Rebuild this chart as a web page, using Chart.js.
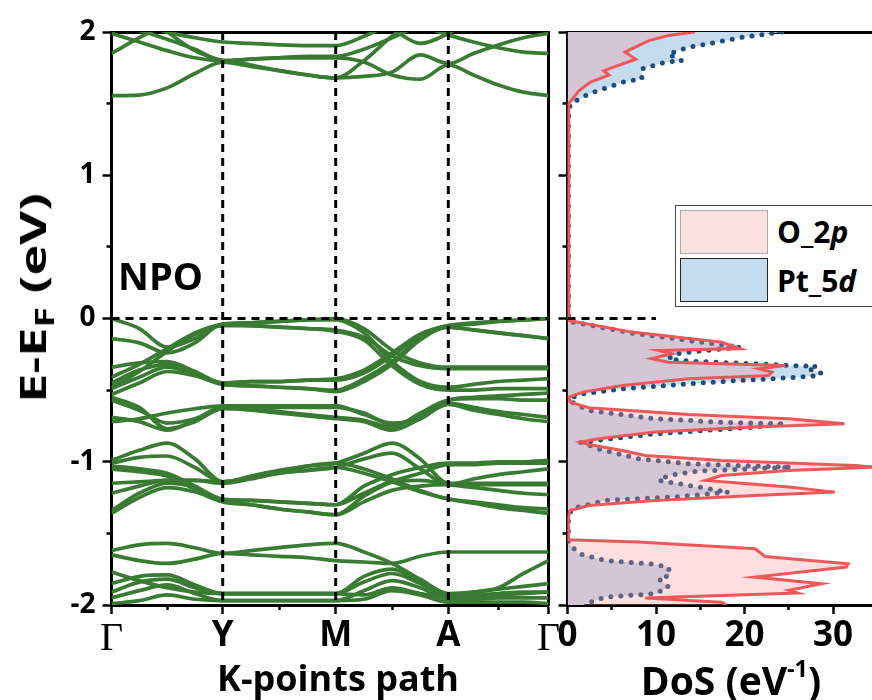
<!DOCTYPE html>
<html><head><meta charset="utf-8">
<script src="https://cdn.jsdelivr.net/npm/chart.js@4"></script>
<style>
html,body{margin:0;padding:0;background:#fff;}
#wrap{position:relative;width:872px;height:700px;overflow:hidden;font-family:'Open Sans',sans-serif;font-weight:700;color:#000;}
canvas{position:absolute;left:0;top:0;}
.t{position:absolute;white-space:nowrap;line-height:1;}
#ytitle{left:33px;top:298px;font-size:36px;transform:translate(-50%,-50%) rotate(-90deg) scaleX(1.45);}
#ytitle sub{font-size:0.72em;vertical-align:-0.3em;line-height:0;}
#npo{left:118px;top:256px;font-size:38px;}
#xtitle{left:338px;top:660px;font-size:36px;transform:translateX(-50%);}
#dtitle{left:731px;top:660px;font-size:39px;transform:translateX(-50%);}
#dtitle sup{font-size:0.6em;vertical-align:0.75em;line-height:0;}
#legend{position:absolute;left:675px;top:205px;width:210px;height:100px;border:1.5px solid #444;background:#fff;}
.sw{position:absolute;left:4px;width:86px;height:42px;}
#sw1{top:4px;background:#fde1e1;border:1px solid #aaa;}
#sw2{top:52px;background:#c5dcef;border:1.5px solid #222;}
.lt{position:absolute;left:101px;font-size:30px;line-height:1;}
.lt i{font-style:italic;}
</style></head><body>
<div id="wrap">
<canvas id="bands" width="872" height="700"></canvas>
<canvas id="dos" width="872" height="700"></canvas>
<div class="t" id="ytitle">E-E<sub>F</sub> (eV)</div>
<div class="t" id="npo">NPO</div>
<div class="t" id="xtitle">K-points path</div>
<div class="t" id="dtitle">DoS (eV<sup>-1</sup>)</div>
<div id="legend">
  <div class="sw" id="sw1"></div><div class="lt" style="top:11px">O_2<i>p</i></div>
  <div class="sw" id="sw2"></div><div class="lt" style="top:60px">Pt_5<i>d</i></div>
</div>
</div>
<script>
// ---------- k-path ----------
const kPath = [0, 27.8, 55.6, 83.4, 111.2, 139.4, 167.7, 196.0, 224.2, 252.4, 280.5, 308.7, 336.8, 361.9, 386.9, 412.0, 437.0];
const kTickPos = [0, 111.2, 224.2, 336.8, 437.0];
const kTickLabels = ['Γ', 'Y', 'M', 'A', 'Γ'];
const energyTicks = [-2, -1, 0, 1, 2];
const energyMinorTicks = [-1.5, -0.5, 0.5, 1.5];
const dosTicks = [0, 10, 20, 30];
const dosMinorTicks = [5, 15, 25];

// ---------- bands (eV at kPath points) ----------
const bandsCB = [
  [1.556,1.56,1.61,1.71,1.79, 1.76,1.73,1.70,1.68, 1.80,1.97,2.10,2.15, 2.15,2.15,2.15,2.15],
  [1.99,1.93,1.87,1.82,1.80, 1.81,1.82,1.82,1.82, 1.79,1.70,1.67,1.77, 1.70,1.63,1.58,1.556],
  [1.85,1.96,2.06,2.12,2.15, 2.15,2.15,2.15,2.15, 2.15,2.15,2.05,1.98, 1.93,1.89,1.86,1.85],
  [2.06,2.01,1.95,1.88,1.80, 1.81,1.82,1.83,1.83, 1.88,1.96,2.05,2.12, 2.15,2.15,2.15,2.15],
  [2.12,2.06,2.00,1.96,1.93, 1.92,1.91,1.905,1.905, 1.97,2.06,2.12,2.15, 2.15,2.15,2.15,2.15],
  [2.15,2.12,2.00,1.87,1.80, 1.77,1.73,1.70,1.68, 1.69,1.72,1.84,1.78, 1.85,1.91,1.96,1.99],
  [2.15,2.15,2.15,2.15,2.15, 2.15,2.15,2.15,2.15, 2.10,2.02,1.92,1.99, 2.10,2.15,2.15,2.15]
];
const bandsVB1 = [
  [0.00,-0.07,-0.20,-0.14,-0.04, -0.03,-0.02,-0.01,0.00, -0.07,-0.22,-0.31,-0.34, -0.34,-0.34,-0.34,-0.34],
  [-0.14,-0.17,-0.24,-0.17,-0.04, -0.05,-0.06,-0.07,-0.08, -0.13,-0.26,-0.33,-0.35, -0.35,-0.35,-0.35,-0.35],
  [-0.41,-0.32,-0.21,-0.10,-0.04, -0.03,-0.02,-0.01,-0.01, -0.10,-0.30,-0.44,-0.48, -0.46,-0.44,-0.43,-0.42],
  [-0.48,-0.37,-0.23,-0.11,-0.05, -0.05,-0.06,-0.07,-0.09, -0.15,-0.33,-0.46,-0.50, -0.50,-0.49,-0.49,-0.49],
  [-0.34,-0.31,-0.30,-0.37,-0.45, -0.44,-0.44,-0.43,-0.43, -0.38,-0.26,-0.12,-0.05, -0.03,-0.02,-0.01,0.00],
  [-0.45,-0.36,-0.32,-0.38,-0.46, -0.47,-0.48,-0.49,-0.50, -0.42,-0.30,-0.14,-0.06, -0.08,-0.10,-0.12,-0.14],
  [-0.49,-0.41,-0.34,-0.39,-0.45, -0.44,-0.44,-0.43,-0.42, -0.36,-0.24,-0.11,-0.05, -0.04,-0.02,-0.01,0.00],
  [-0.53,-0.45,-0.37,-0.40,-0.46, -0.47,-0.48,-0.49,-0.51, -0.44,-0.32,-0.15,-0.06, -0.08,-0.10,-0.12,-0.14],
  [-0.57,-0.64,-0.73,-0.70,-0.62, -0.62,-0.62,-0.62,-0.62, -0.66,-0.74,-0.68,-0.57, -0.55,-0.54,-0.53,-0.52],
  [-0.69,-0.72,-0.78,-0.71,-0.62, -0.63,-0.65,-0.67,-0.69, -0.71,-0.76,-0.66,-0.57, -0.56,-0.56,-0.57,-0.57],
  [-0.72,-0.70,-0.66,-0.63,-0.61, -0.61,-0.61,-0.61,-0.61, -0.67,-0.73,-0.70,-0.59, -0.62,-0.65,-0.67,-0.69],
  [-0.55,-0.62,-0.77,-0.72,-0.63, -0.64,-0.66,-0.68,-0.70, -0.72,-0.78,-0.70,-0.60, -0.64,-0.67,-0.70,-0.72]
];
const bandsVB2 = [
  [-0.99,-0.92,-0.87,-0.98,-1.14, -1.10,-1.06,-1.03,-1.01, -0.94,-0.87,-0.98,-1.15, -1.15,-1.15,-1.15,-1.15],
  [-1.01,-0.97,-0.96,-1.04,-1.14, -1.11,-1.08,-1.06,-1.04, -0.98,-0.94,-1.05,-1.16, -1.12,-1.09,-1.07,-1.05],
  [-1.03,-1.05,-1.08,-1.17,-1.26, -1.27,-1.28,-1.29,-1.30, -1.17,-1.09,-1.04,-1.01, -1.01,-1.00,-1.00,-0.99],
  [-1.05,-1.07,-1.10,-1.19,-1.27, -1.30,-1.33,-1.35,-1.37, -1.24,-1.14,-1.08,-1.02, -1.02,-1.01,-1.01,-1.01],
  [-1.15,-1.14,-1.13,-1.13,-1.14, -1.11,-1.07,-1.03,-1.01, -1.05,-1.12,-1.20,-1.26, -1.28,-1.30,-1.32,-1.33],
  [-1.22,-1.17,-1.13,-1.13,-1.15, -1.12,-1.08,-1.06,-1.04, -1.08,-1.14,-1.21,-1.26, -1.29,-1.32,-1.34,-1.36],
  [-1.34,-1.22,-1.15,-1.18,-1.27, -1.27,-1.28,-1.29,-1.30, -1.22,-1.14,-1.13,-1.16, -1.18,-1.20,-1.22,-1.23],
  [-1.36,-1.25,-1.18,-1.21,-1.28, -1.30,-1.33,-1.35,-1.37, -1.28,-1.20,-1.17,-1.16, -1.16,-1.16,-1.16,-1.16]
];
const bandsVB3 = [
  [-1.62,-1.58,-1.57,-1.60,-1.64, -1.62,-1.60,-1.58,-1.57, -1.63,-1.71,-1.82,-1.92, -1.91,-1.88,-1.78,-1.69],
  [-1.65,-1.69,-1.71,-1.68,-1.64, -1.65,-1.66,-1.67,-1.69, -1.70,-1.71,-1.66,-1.63, -1.63,-1.63,-1.63,-1.63],
  [-1.85,-1.80,-1.79,-1.86,-1.92, -1.92,-1.92,-1.92,-1.92, -1.80,-1.75,-1.84,-1.93, -1.91,-1.89,-1.87,-1.85],
  [-1.91,-1.84,-1.82,-1.88,-1.92, -1.92,-1.92,-1.92,-1.92, -1.84,-1.78,-1.85,-1.94, -1.93,-1.92,-1.91,-1.91],
  [-1.95,-1.90,-1.86,-1.92,-1.97, -1.97,-1.97,-1.97,-1.97, -1.90,-1.83,-1.88,-1.96, -1.96,-1.95,-1.95,-1.95],
  [-1.99,-1.97,-1.93,-1.96,-1.97, -1.97,-1.97,-1.97,-1.97, -1.96,-1.90,-1.93,-1.98, -1.98,-1.98,-1.98,-1.99],
  [-1.77,-1.83,-1.88,-1.91,-1.92, -1.92,-1.92,-1.92,-1.92, -1.93,-1.88,-1.92,-1.95, -1.94,-1.93,-1.92,-1.91]
];

// ---------- DoS ----------
const dosEnergyO = [2.00,1.975,1.94,1.86,1.81,1.73,1.70,1.65,1.59,1.50,1.45,0.05,
  -0.014,-0.095,-0.165,-0.21,-0.223,-0.246,-0.28,-0.305,-0.316,-0.328,-0.351,-0.375,-0.398,-0.421,-0.468,-0.514,-0.549,-0.584,
  -0.623,-0.670,-0.700,-0.735,-0.758,-0.793,-0.840,-0.863,-0.879,-0.921,-0.956,-0.991,-1.026,-1.038,-1.061,-1.096,-1.130,-1.149,
  -1.177,-1.212,-1.235,-1.270,-1.305,-1.340,-1.386,-1.545,-1.561,-1.607,-1.661,-1.712,-1.735,-1.805,-1.851,-1.898,-1.917,-1.952,-1.980,-2.00];
const dosO = [14.4,11.4,9.2,6.5,7.7,4.1,4.7,2.6,1.3,0.15,0.15,0.15,
  0.15,7.3,17.4,19.5,10.3,11.8,9.5,11.4,17.4,24.6,21.6,23.1,22.7,13.7,6.2,1.7,0.15,0.3,
  2.4,13.7,25.0,31.3,21.2,9.9,3.5,1.5,2.4,6.2,8.8,17.4,32.5,34.7,25.0,17.4,15.6,19.3,
  25.0,30.2,21.2,9.9,2.4,0.3,0.1,0.1,8.0,21.2,22.3,31.7,31.5,21.2,28.7,25.0,26.0,8.8,17.4,18.0];
const dosEnergyPt = [2.00,1.963,1.917,1.893,1.847,1.800,1.789,1.742,1.673,1.649,1.568,1.498,1.40,0.05,
  -0.02,-0.102,-0.200,-0.246,-0.281,-0.298,-0.316,-0.328,-0.333,-0.351,-0.382,-0.400,-0.414,-0.433,-0.456,-0.491,-0.526,-0.556,
  -0.584,-0.642,-0.700,-0.724,-0.735,-0.758,-0.805,-0.849,-0.865,-0.910,-0.979,-1.014,-1.038,-1.065,-1.096,-1.130,-1.165,-1.212,
  -1.247,-1.270,-1.326,-1.386,-1.568,-1.642,-1.689,-1.712,-1.735,-1.793,-1.817,-1.875,-1.921,-1.945,-1.991,-2.00];
const dosPt = [24.2,19.7,15.9,13.7,11.4,12.9,11.0,8.4,8.4,6.2,2.4,0.3,0.1,0.1,
  0.15,7.3,19.5,12.2,11.4,13.7,21.2,25.0,28.0,27.2,28.7,28.0,25.0,19.3,13.7,6.2,1.7,0.3,
  0.5,2.4,9.9,17.4,24.6,21.2,9.9,3.5,1.5,3.5,8.0,13.7,25.3,14.8,11.4,10.3,13.7,18.2,
  11.8,4.3,0.5,0.1,0.1,1.3,4.3,9.2,11.4,11.6,10.3,11.4,9.9,4.3,2.0,1.8];
const fermiDashDoS = [0, 10];

// ---------- styles ----------
const GREEN = '#3a7b34';
const SANS = 'Open Sans';
const kMinor = kTickPos.slice(1).map((v, i) => (v + kTickPos[i]) / 2);

const dashStyle = {borderColor: '#000', borderWidth: 3, borderDash: [8, 6], pointRadius: 0, showLine: true, tension: 0, fill: false};
const bandDatasets = [].concat(bandsCB, bandsVB1, bandsVB2, bandsVB3).map(b => ({
  data: kPath.map((k, i) => ({x: k, y: b[i]})),
  borderColor: GREEN, borderWidth: 3.7, pointRadius: 0, showLine: true,
  cubicInterpolationMode: 'monotone', fill: false
}));
const dashDatasets = kTickPos.slice(1, 4).map(k => Object.assign({
  data: [{x: k, y: 2}, {x: k, y: -2}]
}, dashStyle));
dashDatasets.push(Object.assign({data: [{x: kTickPos[0], y: 0}, {x: kTickPos[4], y: 0}]}, dashStyle));

const LEFT_AREA = 111.5, RIGHT_AREA = 548.5, TOP_AREA = 32, BOTTOM_H = 95, DOS_LEFT = 567.5;

// helpers for axes (major labelled ticks + shorter minor ticks on a second, zero-size axis)
const tickGrid = len => ({display: true, drawOnChartArea: false, drawTicks: true, tickLength: len, tickWidth: 2.5, tickColor: '#000'});
const borderAxis = (pos, min, max) => ({
  type: 'linear', position: pos, min, max,
  afterFit: s => { if (s.isHorizontal()) s.height = 0; else s.width = 0; },
  ticks: {display: false}, grid: {display: false},
  border: {display: true, color: '#000', width: 3}
});
const minorAxis = (pos, min, max, vals) => ({
  type: 'linear', position: pos, min, max, weight: 0, display: true,
  afterBuildTicks: s => { s.ticks = vals.map(v => ({value: v})); },
  afterFit: s => { if (s.isHorizontal()) s.height = 0; else s.width = 0; },
  grid: tickGrid(5), border: {display: false},
  ticks: {autoSkip: false, callback: () => '', padding: 0, font: {size: 1}}
});

new Chart(document.getElementById('bands'), {
  type: 'scatter',
  data: {datasets: dashDatasets.concat(bandDatasets)},
  options: {
    responsive: false, animation: false, devicePixelRatio: 1,
    layout: {padding: {left: 0, right: 872 - RIGHT_AREA, top: TOP_AREA, bottom: 0}},
    plugins: {legend: {display: false}, tooltip: {enabled: false}},
    scales: {
      x: {
        type: 'linear', min: kTickPos[0], max: kTickPos[4], position: 'bottom', weight: 10,
        afterBuildTicks: s => { s.ticks = kTickPos.map(v => ({value: v})); },
        afterFit: s => { s.height = BOTTOM_H; },
        grid: tickGrid(9),
        border: {display: true, color: '#000', width: 3},
        ticks: {
          autoSkip: false, maxRotation: 0, minRotation: 0, padding: 1, color: '#000',
          callback: v => { const i = kTickPos.indexOf(v); return i >= 0 ? kTickLabels[i] : ''; },
          font: ctx => {
            const v = ctx.tick ? ctx.tick.value : null;
            const i = kTickPos.indexOf(v);
            if (i >= 0 && kTickLabels[i] === 'Γ') return {family: 'Liberation Serif', size: 40, weight: 'normal'};
            return {family: SANS, size: 35, weight: 'bold'};
          }
        }
      },
      xMinor: minorAxis('bottom', kTickPos[0], kTickPos[4], kMinor),
      xTop: borderAxis('top', kTickPos[0], kTickPos[4]),
      y: {
        type: 'linear', min: -2, max: 2, position: 'left', weight: 10,
        afterBuildTicks: s => { s.ticks = energyTicks.map(v => ({value: v})); },
        afterFit: s => { s.width = LEFT_AREA; },
        grid: tickGrid(9),
        border: {display: true, color: '#000', width: 3},
        ticks: {padding: 7, color: '#000', font: {family: SANS, size: 28, weight: 'bold'},
          callback: v => String(v)}
      },
      yMinor: minorAxis('left', -2, 2, energyMinorTicks),
      yRight: borderAxis('right', -2, 2)
    }
  }
});

new Chart(document.getElementById('dos'), {
  type: 'line',
  data: {datasets: [
    Object.assign({data: fermiDashDoS.map(d => ({x: d, y: 0}))}, dashStyle),
    {
      data: dosEnergyO.map((e, i) => ({x: dosO[i], y: e})),
      borderColor: '#f0575a', borderWidth: 3, pointRadius: 0, tension: 0,
      fill: 'origin', backgroundColor: 'rgba(248,150,152,0.3)'
    },
    {
      data: dosEnergyPt.map((e, i) => ({x: dosPt[i], y: e})),
      borderColor: '#1f4e79', borderWidth: 5, borderDash: [0, 10], borderCapStyle: 'round',
      pointRadius: 0, tension: 0, fill: 'origin', backgroundColor: '#c5dcef'
    }
  ]},
  options: {
    indexAxis: 'y',
    responsive: false, animation: false, devicePixelRatio: 1,
    layout: {padding: {left: 0, right: 0, top: TOP_AREA, bottom: 0}},
    plugins: {legend: {display: false}, tooltip: {enabled: false}},
    scales: {
      x: {
        type: 'linear', min: 0, max: 34.4, position: 'bottom', weight: 10,
        afterBuildTicks: s => { s.ticks = dosTicks.map(v => ({value: v})); },
        afterFit: s => { s.height = BOTTOM_H; },
        grid: tickGrid(9),
        border: {display: true, color: '#000', width: 3},
        ticks: {autoSkip: false, maxRotation: 0, padding: 1, color: '#000',
          font: {family: SANS, size: 35, weight: 'bold'},
          callback: v => String(v)}
      },
      xMinor: minorAxis('bottom', 0, 34.4, dosMinorTicks),
      xTop: borderAxis('top', 0, 34.4),
      y: {
        type: 'linear', min: -2, max: 2, position: 'left', weight: 10,
        afterBuildTicks: s => { s.ticks = energyTicks.map(v => ({value: v})); },
        afterFit: s => { s.width = DOS_LEFT; },
        grid: tickGrid(9),
        border: {display: true, color: '#000', width: 3},
        ticks: {color: '#000', callback: () => ''}
      },
      yMinor: minorAxis('left', -2, 2, energyMinorTicks)
    }
  }
});
</script>
</body></html>
